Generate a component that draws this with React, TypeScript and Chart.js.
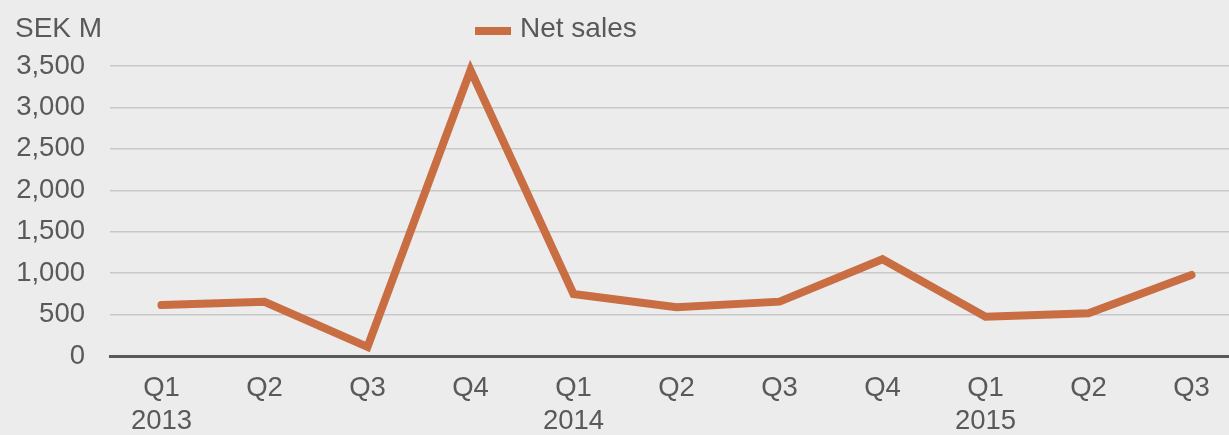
import React, { useEffect, useRef } from "react";
import { Chart, registerables } from "chart.js";

Chart.register(...registerables);

const quarters = ["Q1", "Q2", "Q3", "Q4", "Q1", "Q2", "Q3", "Q4", "Q1", "Q2", "Q3"];
const years = ["2013", "", "", "", "2014", "", "", "", "2015", "", ""];
const netSales = [615, 655, 110, 3450, 748, 588, 656, 1167, 475, 515, 978];
const seriesName = "Net sales";
const unitLabel = "SEK M";
const yMax = 3500;
const yStep = 500;

const FONT = "'Liberation Sans', Arial, sans-serif";
const TEXT = "#595959";
const LINE = "#c96d43";

const overlayPlugin = {
  id: "overlay",
  afterDraw(chart: any) {
    const ctx = chart.ctx;
    ctx.save();
    ctx.font = `28px ${FONT}`;
    ctx.fillStyle = TEXT;
    ctx.textBaseline = "middle";
    ctx.textAlign = "left";
    ctx.fillText(unitLabel, 15, 29);
    // legend
    ctx.strokeStyle = LINE;
    ctx.lineWidth = 8;
    ctx.beginPath();
    ctx.moveTo(475, 31);
    ctx.lineTo(511, 31);
    ctx.stroke();
    ctx.fillText(seriesName, 520, 29);
    ctx.restore();
  },
};

export default function App() {
  const ref = useRef<HTMLCanvasElement>(null);
  useEffect(() => {
    if (!ref.current) return;
    const labels = quarters.map((q, i) => (years[i] ? [q, years[i]] : q));
    const chart = new Chart(ref.current, {
      type: "line",
      data: {
        labels,
        datasets: [
          {
            label: seriesName,
            data: netSales,
            borderColor: LINE,
            backgroundColor: LINE,
            borderWidth: 8,
            tension: 0,
            pointRadius: 0,
            borderCapStyle: "round",
            borderJoinStyle: "miter",
            clip: false as any,
          },
        ],
      },
      options: {
        animation: false,
        responsive: true,
        maintainAspectRatio: false,
        layout: { padding: { top: 66, left: 16, right: 2, bottom: 0 } },
        plugins: {
          legend: { display: false },
          tooltip: { enabled: false },
        },
        scales: {
          x: {
            offset: true,
            grid: { display: false, drawTicks: false },
            border: { display: true, color: TEXT, width: 3 },
            ticks: {
              color: TEXT,
              font: { family: FONT, size: 27.5, lineHeight: 1.2 },
              padding: 16,
              maxRotation: 0,
              autoSkip: false,
            },
            afterFit: (scale: any) => {
              scale.height = 79;
            },
          },
          y: {
            min: 0,
            max: yMax,
            grid: { color: "#c8c8c8", lineWidth: 1.5, drawTicks: false },
            border: { display: false },
            ticks: {
              stepSize: yStep,
              color: TEXT,
              font: { family: FONT, size: 27.5 },
              padding: 25,
              callback: (v: any) => Number(v).toLocaleString("en-US"),
            },
            afterFit: (scale: any) => {
              scale.width = 94;
            },
          },
        },
      },
      plugins: [overlayPlugin],
    });
    return () => chart.destroy();
  }, []);

  return (
    <div
      style={{
        position: "fixed",
        left: 0,
        top: 0,
        width: 1229,
        height: 435,
        overflow: "hidden",
        background: "#ececec",
      }}
    >
      <div style={{ position: "relative", width: 1245, height: 435 }}>
        <canvas ref={ref} />
      </div>
    </div>
  );
}
